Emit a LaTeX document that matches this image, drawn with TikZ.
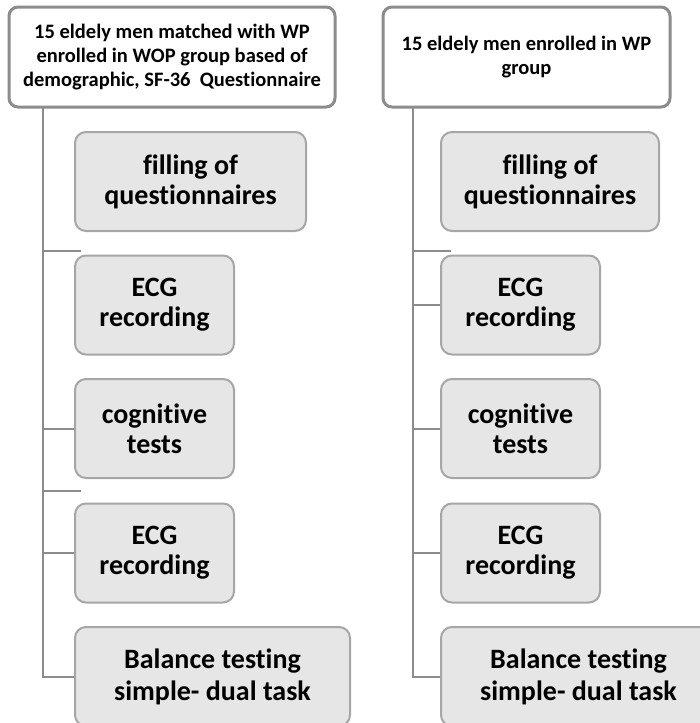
\documentclass[tikz,border=0pt]{standalone}
\usepackage{fontspec}
\setmainfont{Carlito}[Ligatures=NoCommon]
\usetikzlibrary{positioning}

\definecolor{edgegray}{HTML}{8C8C8C}
\definecolor{boxedge}{HTML}{A6A6A6}
\definecolor{boxfill}{HTML}{E6E6E6}

\tikzset{
    headbox/.style={draw=edgegray, line width=3pt, fill=white, rounded corners=9pt,
        align=center, inner sep=0pt, minimum height=100pt,
        font=\fontsize{20.5}{24}\selectfont\bfseries},
    stepbox/.style={draw=boxedge, line width=2pt, fill=boxfill, rounded corners=11pt,
        align=center, inner sep=0pt, minimum height=99pt,
        font=\fontsize{28}{30}\selectfont\bfseries},
    link/.style={draw=edgegray, line width=2pt}
}

\begin{document}
\begin{tikzpicture}[x=1pt, y=-1pt]
    \clip (0,0) rectangle (700,723);

    % WOP group (left)
    \node[headbox, minimum width=326pt] (topL) at (172,57)
        {15 eldely men matched with WP\\ enrolled in WOP group based of\\ demographic, SF-36\ \ Questionnaire};
    \node[stepbox, minimum width=231pt] (fillL) at (190.5,181.5) {filling of\\ questionnaires};
    \node[stepbox, minimum width=159pt] (ecgL) at (154.5,305) {ECG\\ recording};
    \node[stepbox, minimum width=159pt] (cogL) at (154.5,428.5) {cognitive\\ tests};
    \node[stepbox, minimum width=159pt] (ecgLb) at (154.5,553) {ECG\\ recording};
    \node[stepbox, minimum width=275pt, font=\fontsize{28}{32}\selectfont\bfseries] (balL) at (212.5,676.5)
        {Balance testing\\ simple- dual task};

    % WP group (right)
    \node[headbox, minimum width=287pt] (topR) at (526.5,57)
        {15 eldely men enrolled in WP\\ group};
    \node[stepbox, minimum width=218pt] (fillR) at (550,181.5) {filling of\\ questionnaires};
    \node[stepbox, minimum width=159pt] (ecgR) at (520.5,305) {ECG\\ recording};
    \node[stepbox, minimum width=159pt] (cogR) at (520.5,428.5) {cognitive\\ tests};
    \node[stepbox, minimum width=159pt] (ecgRb) at (520.5,553) {ECG\\ recording};
    \node[stepbox, minimum width=275pt, font=\fontsize{28}{32}\selectfont\bfseries] (balR) at (578.5,676.5)
        {Balance testing\\ simple- dual task};

    % trunks and branches
    \coordinate (lroot) at (43,107);
    \coordinate (rroot) at (413,107);
    \coordinate (ltick1) at (81,251);
    \coordinate (ltick2) at (81,491);
    \coordinate (rtick1) at (451,251);

    \draw[link] (lroot) |- (balL.west);
    \draw[link] (cogL.west) -- (cogL.west -| lroot);
    \draw[link] (ecgLb.west) -- (ecgLb.west -| lroot);
    \draw[link] (ltick1) -- (ltick1 -| lroot);
    \draw[link] (ltick2) -- (ltick2 -| lroot);

    \draw[link] (rroot) |- (balR.west);
    \draw[link] (ecgR.west) -- (ecgR.west -| rroot);
    \draw[link] (cogR.west) -- (cogR.west -| rroot);
    \draw[link] (ecgRb.west) -- (ecgRb.west -| rroot);
    \draw[link] (rtick1) -- (rtick1 -| rroot);
\end{tikzpicture}
\end{document}
